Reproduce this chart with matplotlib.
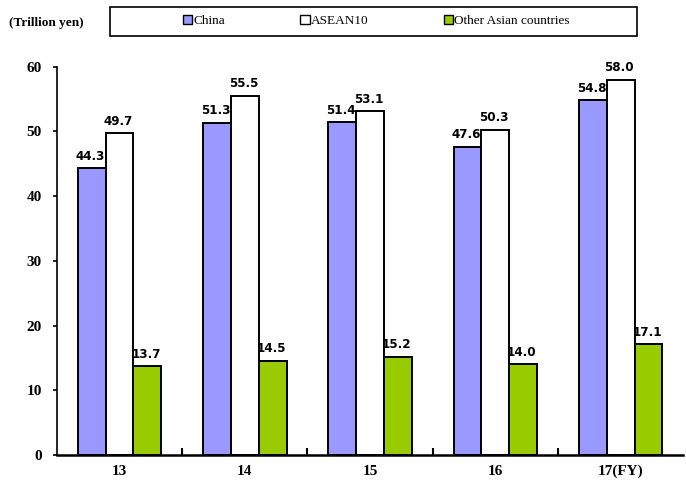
import matplotlib.pyplot as plt
from matplotlib.patches import Rectangle
import numpy as np

# Trade values by fiscal year (trillion yen)
years = ['13', '14', '15', '16', '17(FY)']
china = [44.3, 51.3, 51.4, 47.6, 54.8]
asean10 = [49.7, 55.5, 53.1, 50.3, 58.0]
other_asia = [13.7, 14.5, 15.2, 14.0, 17.1]

series_names = ['China', 'ASEAN10', 'Other Asian countries']
series_colors = ['#9999FF', '#FFFFFF', '#99CC00']

fig = plt.figure(figsize=(6.86, 4.84), dpi=100)
ax = fig.add_axes([0.083, 0.06, 0.913, 0.802])

x = np.arange(len(years))
width = 0.222
serif = 'Liberation Serif'

for i, (vals, name, color) in enumerate(zip([china, asean10, other_asia], series_names, series_colors)):
    pos = x + (i - 1) * width
    ax.bar(pos, vals, width, color=color, edgecolor='black', linewidth=1.4, label=name)
    for p, v in zip(pos, vals):
        ax.text(p - 0.01, v + 0.9, f'{v:.1f}', ha='center', va='bottom',
                fontsize=9.5, fontweight='bold', family='DejaVu Sans', stretch='condensed')

ax.set_xlim(-0.5, len(years) - 0.5)
ax.set_ylim(0, 60)
ax.set_yticks(range(0, 61, 10))
ax.set_xticks(x)
ax.set_xticklabels(years)
ax.set_xticks(np.arange(0.5, len(years) - 0.5, 1), minor=True)

for lbl in ax.get_xticklabels() + ax.get_yticklabels():
    lbl.set_family(serif)
    lbl.set_fontweight('bold')
    lbl.set_fontsize(11)

ax.tick_params(axis='x', which='major', length=0, pad=7)
ax.tick_params(axis='x', which='minor', direction='in', length=5, width=1.5)
ax.tick_params(axis='y', direction='out', length=3, width=1.2, pad=8)

ax.spines['top'].set_visible(False)
ax.spines['right'].set_visible(False)
ax.spines['left'].set_linewidth(1.2)
ax.spines['bottom'].set_linewidth(1.8)

# unit label
fig.text(0.013, 0.953, '(Trillion yen)', family=serif, fontweight='bold', fontsize=9.5,
         ha='left', va='center')

# legend box across the top
fig.patches.append(Rectangle((0.160, 0.926), 0.768, 0.060, transform=fig.transFigure,
                             facecolor='white', edgecolor='black', linewidth=1.2, zorder=1))
leg = fig.legend(loc='center left', bbox_to_anchor=(0.257, 0.956), ncol=3,
                 prop={'family': serif, 'size': 9.5}, frameon=False,
                 handlelength=0.7, handleheight=0.7,
                 handletextpad=0.1, columnspacing=5.7, borderpad=0.0)
leg.set_zorder(2)
for h in leg.legend_handles:
    h.set_linewidth(1.0)

fig.savefig('out.png', dpi=100)
